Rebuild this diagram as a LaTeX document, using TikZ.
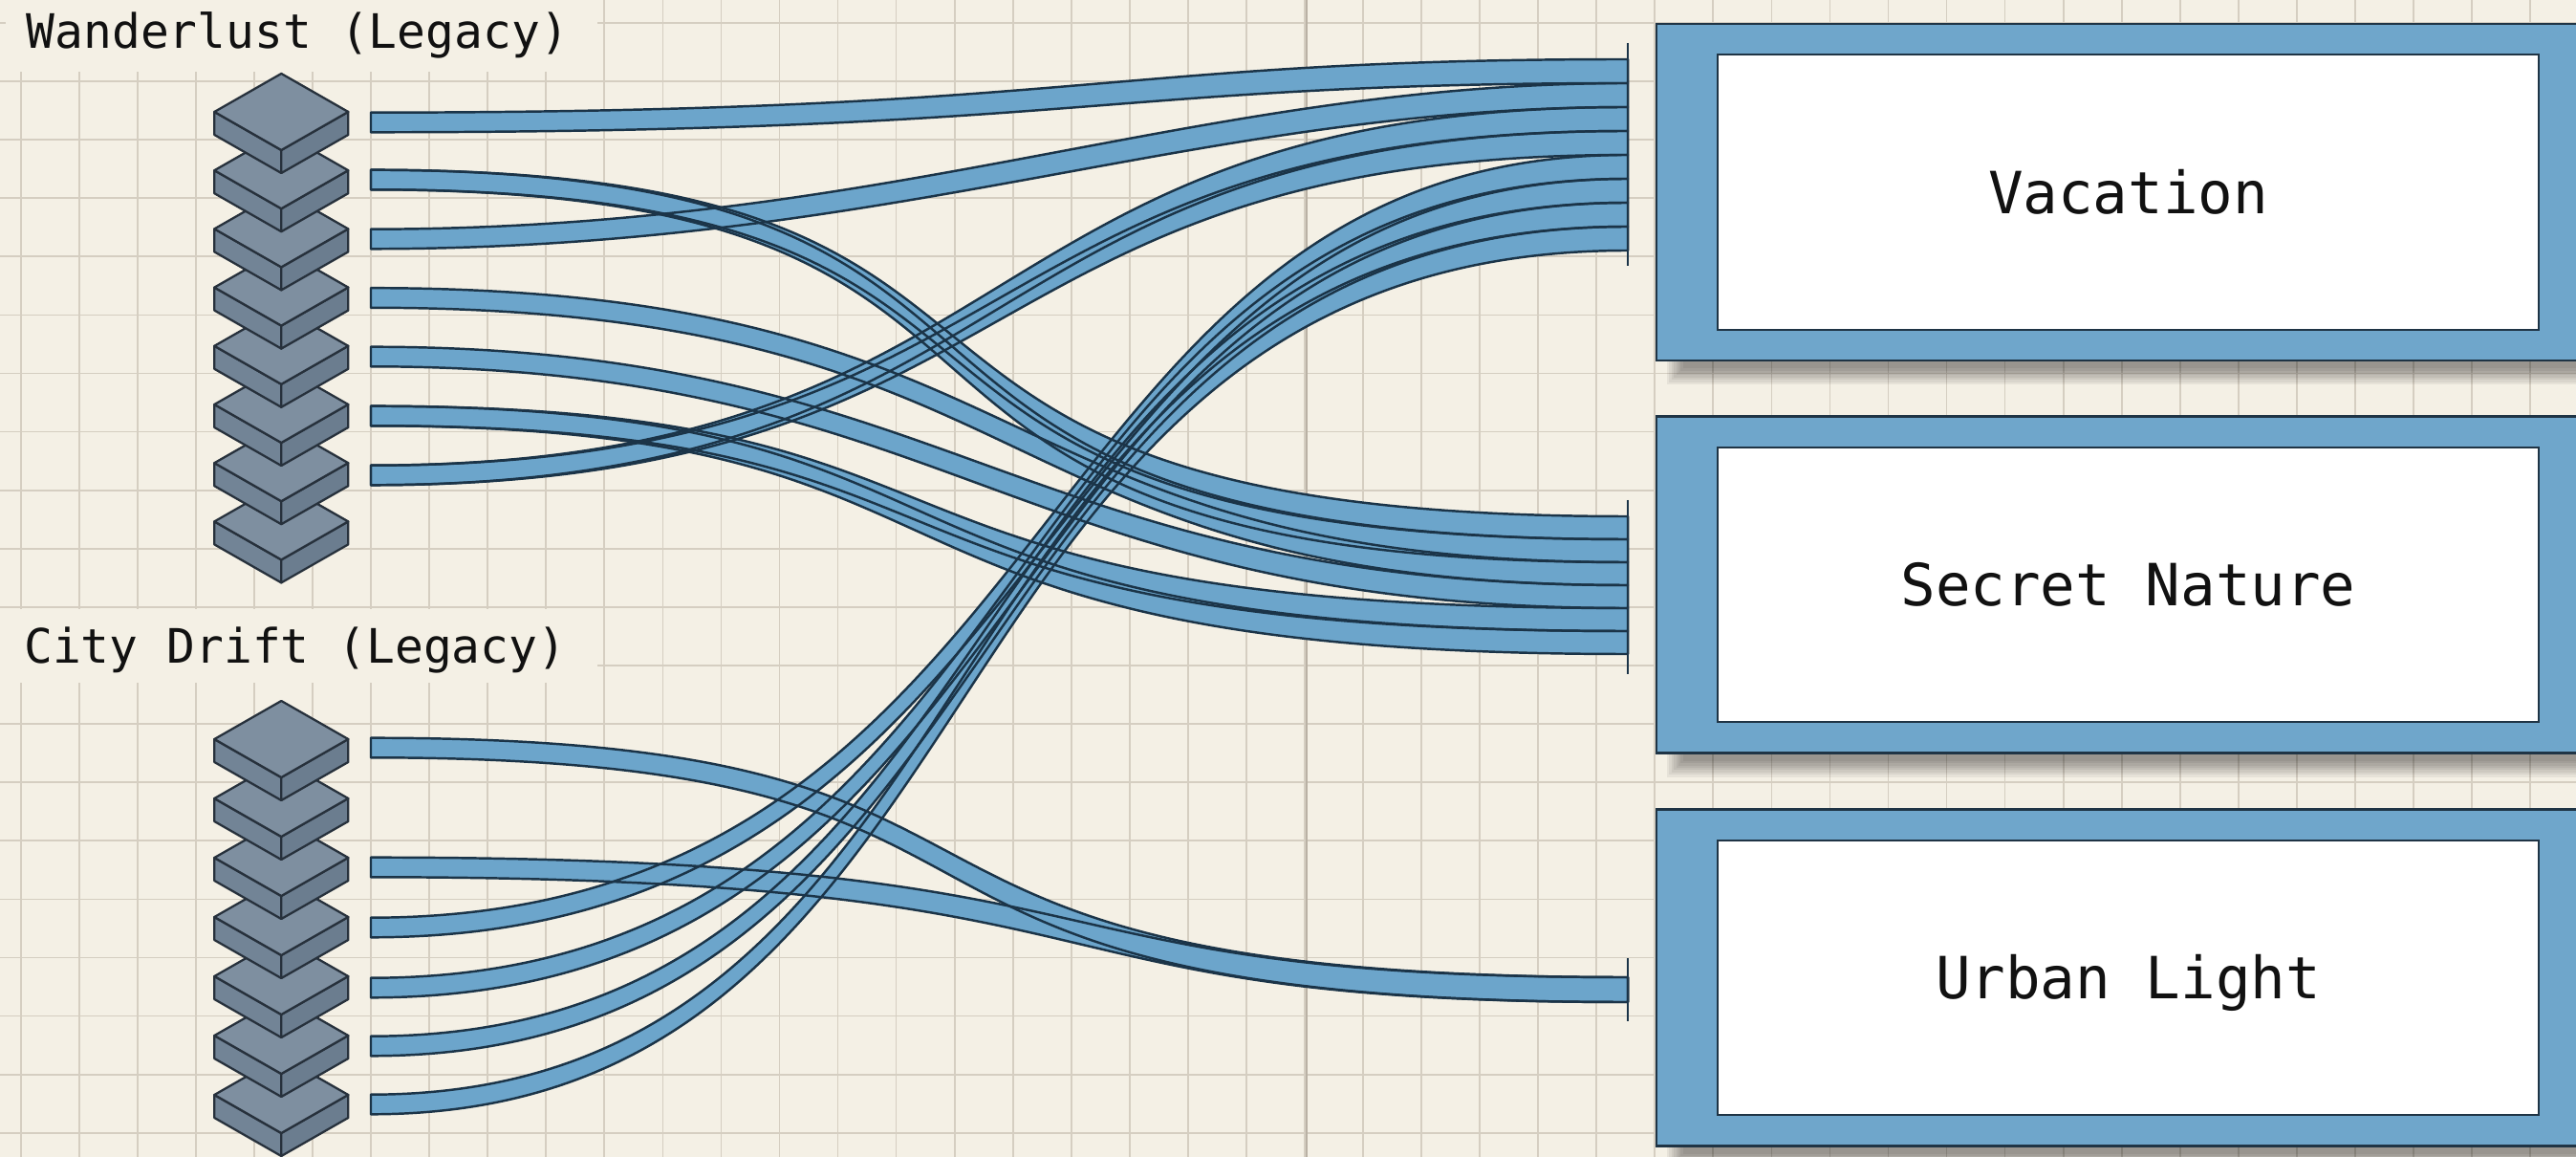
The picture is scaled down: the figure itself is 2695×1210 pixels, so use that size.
\documentclass[tikz,border=0pt]{standalone}
\usepackage{fontspec}
\newfontfamily\monolabel{DejaVu Sans Mono}
\usetikzlibrary{calc}

\definecolor{paper}{HTML}{F4F0E5}
\definecolor{gridc}{HTML}{D5CEC1}
\definecolor{gridmajor}{HTML}{B9B1A4}
\definecolor{flowblue}{HTML}{6CA5CB}
\definecolor{flowedge}{HTML}{1B3448}
\definecolor{slabtop}{HTML}{7E8FA0}
\definecolor{slableft}{HTML}{728496}
\definecolor{slabright}{HTML}{6B7D8F}
\definecolor{slabedge}{HTML}{27313C}
\definecolor{frameblue}{HTML}{6FA6CB}
\definecolor{frameedge}{HTML}{1F3445}
\definecolor{ink}{HTML}{111111}

% one tapered flow band: style, from, to, half width at start, half width at end,
% horizontal handle length at start, horizontal handle length at end
\newcommand\ribbon[7]{%
  \path[#1] ($(#2)+(0,-#4)$)
    .. controls ($(#2)+(#6,-#4)$) and ($(#3)+(-#7,-#5)$) .. ($(#3)+(0,-#5)$)
    -- ($(#3)+(0,#5)$)
    .. controls ($(#3)+(-#7,#5)$) and ($(#2)+(#6,#4)$) .. ($(#2)+(0,#4)$)
    -- cycle;}

% soft drop shadow under a frame: left, top, right, bottom
\newcommand\dropshade[4]{%
  \foreach \k in {0,...,7}{%
    \pgfmathsetmacro\dd{9-2.4*\k}%
    \fill[black,opacity=0.055] ({#1+20-\dd},{#2+16-\dd}) rectangle ({#3+20+\dd},{#4+16+\dd});}}

\begin{document}
\begin{tikzpicture}[x=0.01cm,y=-0.01cm,
  gridline/.style={draw=gridc,line width=0.5pt},
  legacy/.style={font=\monolabel\fontsize{14.1pt}{17pt}\selectfont,text=ink,anchor=base west,inner sep=0pt},
  framebox/.style={draw=frameedge,line width=0.7pt,fill=frameblue,minimum width=9.87cm,minimum height=3.52cm,inner sep=0pt},
  panel/.style={draw=frameedge,line width=0.6pt,fill=white,minimum width=8.59cm,minimum height=2.87cm,inner sep=0pt,
    font=\monolabel\fontsize{17.3pt}{20pt}\selectfont,text=ink,text height=12.6pt,text depth=0pt},
  flowfill/.style={fill=flowblue},
  flowline/.style={draw=flowedge,line width=0.7pt,line join=round},
  portbar/.style={draw=flowedge,line width=0.6pt},
  slabface/.style={draw=slabedge,line width=0.65pt,line join=round},
  slab/.pic={
    \filldraw[slabface,fill=slableft]  (-70,40) -- (0,80) -- (0,104) -- (-70,64) -- cycle;
    \filldraw[slabface,fill=slabright] (70,40) -- (0,80) -- (0,104) -- (70,64) -- cycle;
    \filldraw[slabface,fill=slabtop]   (0,0) -- (70,40) -- (0,80) -- (-70,40) -- cycle;
  }]

\useasboundingbox (0,0) rectangle (2695,1210);
\clip (0,0) rectangle (2695,1210);
\fill[paper] (0,0) rectangle (2695,1210);

% squared paper
\foreach \i in {0,...,43}
  \draw[gridline] ({21.85+61.05*\i},0) -- ({21.85+61.05*\i},1210);
\foreach \j in {0,...,19}
  \draw[gridline] (0,{23.9+61.1*\j}) -- (2695,{23.9+61.1*\j});
\draw[gridline,draw=gridmajor] (1367,0) -- (1367,1210);

% group titles
\fill[paper] (6,0) rectangle (625,75);
\node[legacy] (wtitle) at (27,51) {Wanderlust (Legacy)};
\fill[paper] (0,637) rectangle (625,714);
\node[legacy] (ctitle) at (24.5,693) {City Drift (Legacy)};

% destination frames
\dropshade{1733}{25}{2720}{377}
\dropshade{1733}{435.5}{2720}{787.5}
\dropshade{1733}{846.5}{2720}{1198.5}
\node[framebox] (vac) at (2226.5,201) {};
\node[panel] (vacpanel) at (vac.center) {Vacation};
\node[framebox] (sec) at (2226.5,611.5) {};
\node[panel] (secpanel) at (sec.center) {Secret Nature};
\node[framebox] (urb) at (2226.5,1022.5) {};
\node[panel] (urbpanel) at (urb.center) {Urban Light};

% flow ports
\foreach \n/\y in {1/128,2/188,3/250,4/311.5,5/373,6/435,7/497}
  \coordinate (wl\n) at (388,\y);
\foreach \n/\y in {1/782,2/907,3/970,4/1033,5/1094,6/1155}
  \coordinate (cd\n) at (388,\y);
\foreach \n in {1,...,8}
  \coordinate (vac\n) at (1703,{62+25*(\n-0.5)});
\foreach \n in {1,...,6}
  \coordinate (sec\n) at (1703,{540+24*(\n-0.5)});
\coordinate (urb1) at (1703,1035);

\def\flowlist{%
  cd1/urb1/10.3/13/785/898,
  cd2/urb1/10.3/13/844/672,
  wl2/sec1/10.3/12/813/918,
  wl2/sec2/10.3/12/813/918,
  wl4/sec3/10.3/12/720/682,
  wl5/sec4/10.3/12/610/640,
  wl6/sec5/10.3/12/695/870,
  wl6/sec6/10.3/12/695/870,
  wl1/vac1/10.3/12.5/750/550,
  wl3/vac2/10.3/12.5/550/450,
  wl7/vac3/10.3/12.5/700/700,
  wl7/vac4/10.3/12.5/700/700,
  cd3/vac5/10.3/12.5/740/640,
  cd4/vac6/10.3/12.5/720/680,
  cd5/vac7/10.3/12.5/700/720,
  cd6/vac8/10.3/12.5/684/755}

\foreach \a/\b/\hs/\he/\ca/\cb in \flowlist
  {\ribbon{flowfill}{\a}{\b}{\hs}{\he}{\ca}{\cb}}
\foreach \a/\b/\hs/\he/\ca/\cb in \flowlist
  {\ribbon{flowline}{\a}{\b}{\hs}{\he}{\ca}{\cb}}

\draw[portbar] (1703,45) -- (1703,278);
\draw[portbar] (1703,523) -- (1703,705);
\draw[portbar] (1703,1002) -- (1703,1068);

% source stacks
\foreach \i in {7,6,...,0}
  \pic (wslab\i) at (294.3,{77+61.2*\i}) {slab};
\foreach \i in {6,5,...,0}
  \pic (cslab\i) at (294.3,{733+62*\i}) {slab};

\end{tikzpicture}
\end{document}
